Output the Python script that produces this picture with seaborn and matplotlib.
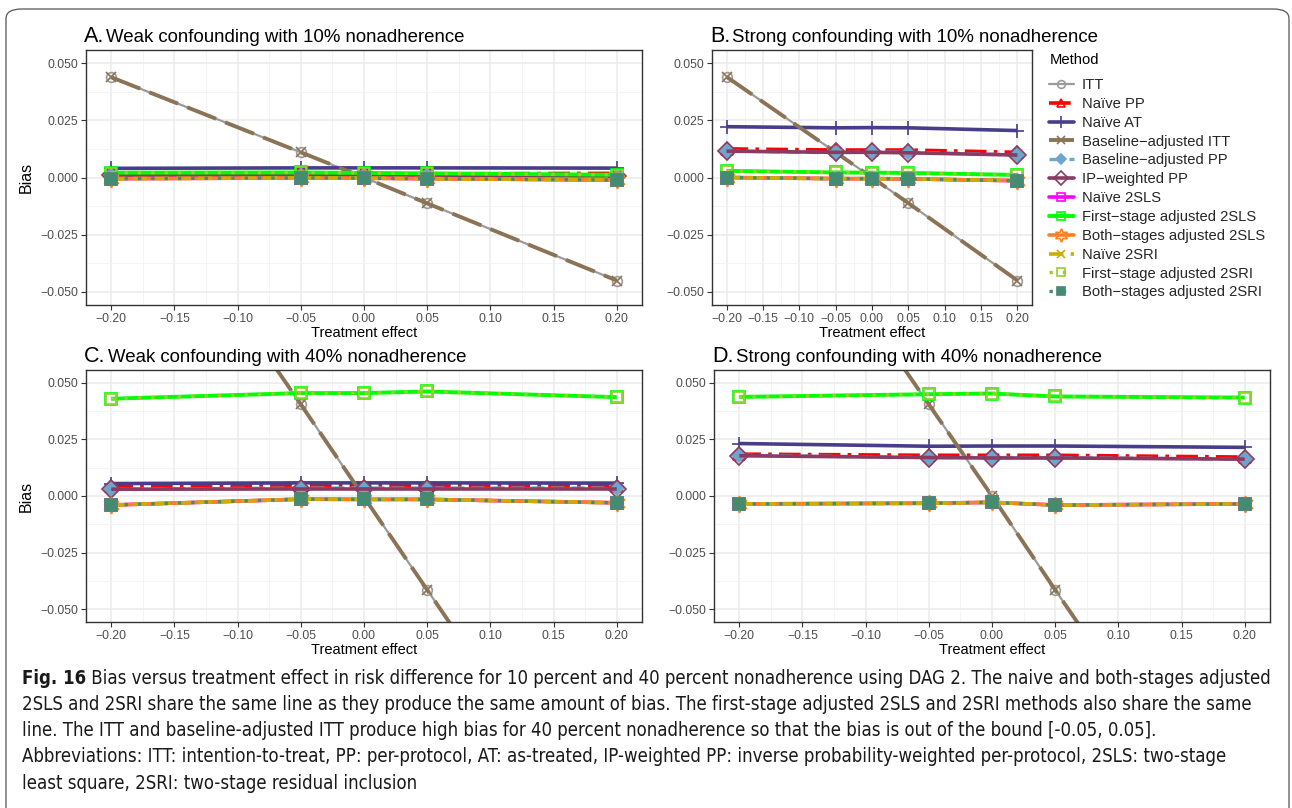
import glob
import matplotlib
matplotlib.use("Agg")
import matplotlib.pyplot as plt
from matplotlib.lines import Line2D
from matplotlib.patches import FancyBboxPatch
from matplotlib.ticker import FuncFormatter, FixedLocator
from matplotlib.font_manager import FontProperties
import seaborn as sns

W, H = 1292, 808

# ---------------------------------------------------------------- data
effects = [-0.20, -0.05, 0.00, 0.05, 0.20]

methods = [
    "ITT", "Naïve PP", "Naïve AT", "Baseline\u2212adjusted ITT",
    "Baseline\u2212adjusted PP", "IP\u2212weighted PP", "Naïve 2SLS",
    "First\u2212stage adjusted 2SLS", "Both\u2212stages adjusted 2SLS",
    "Naïve 2SRI", "First\u2212stage adjusted 2SRI", "Both\u2212stages adjusted 2SRI",
]

# A. weak confounding, 10% nonadherence
itt_weak_10 = [0.0438, 0.0110, 0.0000, -0.0113, -0.0450]
naive_pp_weak_10 = [0.0012, 0.0015, 0.0015, 0.0016, 0.0018]
naive_at_weak_10 = [0.0040, 0.0042, 0.0042, 0.0042, 0.0041]
bl_pp_weak_10 = [0.0009, 0.0010, 0.0010, 0.0010, 0.0008]
ipw_pp_weak_10 = [0.0009, 0.0010, 0.0009, 0.0009, 0.0007]
iv_naive_weak_10 = [-0.0005, -0.0002, -0.0003, -0.0005, -0.0011]
iv_first_weak_10 = [0.0021, 0.0022, 0.0020, 0.0018, 0.0012]

# B. strong confounding, 10% nonadherence
itt_strong_10 = [0.0440, 0.0110, 0.0000, -0.0112, -0.0450]
naive_pp_strong_10 = [0.0125, 0.0120, 0.0120, 0.0120, 0.0110]
naive_at_strong_10 = [0.0222, 0.0217, 0.0218, 0.0217, 0.0205]
bl_pp_strong_10 = [0.0116, 0.0108, 0.0112, 0.0110, 0.0099]
ipw_pp_strong_10 = [0.0115, 0.0110, 0.0110, 0.0108, 0.0098]
iv_naive_strong_10 = [0.0000, -0.0005, -0.0005, -0.0006, -0.0014]
iv_first_strong_10 = [0.0029, 0.0022, 0.0021, 0.0020, 0.0011]

# C. weak confounding, 40% nonadherence
itt_weak_40 = [0.1620, 0.0405, -0.0005, -0.0415, -0.1640]
naive_pp_weak_40 = [0.0044, 0.0045, 0.0045, 0.0045, 0.0045]
naive_at_weak_40 = [0.0055, 0.0058, 0.0058, 0.0058, 0.0057]
bl_pp_weak_40 = [0.0030, 0.0035, 0.0035, 0.0035, 0.0035]
ipw_pp_weak_40 = [0.0030, 0.0031, 0.0031, 0.0031, 0.0031]
iv_naive_weak_40 = [-0.0040, -0.0014, -0.0015, -0.0015, -0.0030]
iv_first_weak_40 = [0.0430, 0.0455, 0.0455, 0.0462, 0.0437]

# D. strong confounding, 40% nonadherence
itt_strong_40 = [0.1620, 0.0405, 0.0000, -0.0415, -0.1640]
naive_pp_strong_40 = [0.0185, 0.0180, 0.0180, 0.0180, 0.0172]
naive_at_strong_40 = [0.0232, 0.0220, 0.0221, 0.0221, 0.0215]
bl_pp_strong_40 = [0.0180, 0.0170, 0.0170, 0.0170, 0.0163]
ipw_pp_strong_40 = [0.0178, 0.0170, 0.0168, 0.0168, 0.0163]
iv_naive_strong_40 = [-0.0035, -0.0032, -0.0028, -0.0040, -0.0035]
iv_first_strong_40 = [0.0438, 0.0450, 0.0453, 0.0440, 0.0435]

panel_titles = [
    ("A.", "Weak confounding with 10% nonadherence"),
    ("B.", "Strong confounding with 10% nonadherence"),
    ("C.", "Weak confounding with 40% nonadherence"),
    ("D.", "Strong confounding with 40% nonadherence"),
]

x_ticks = [-0.20, -0.15, -0.10, -0.05, 0.00, 0.05, 0.10, 0.15, 0.20]
y_ticks = [-0.050, -0.025, 0.000, 0.025, 0.050]

caption_lines = [
    "Bias versus treatment effect in risk difference for 10 percent and 40 percent nonadherence using DAG 2. The naive and both-stages adjusted",
    "2SLS and 2SRI share the same line as they produce the same amount of bias. The first-stage adjusted 2SLS and 2SRI methods also share the same",
    "line. The ITT and baseline-adjusted ITT produce high bias for 40 percent nonadherence so that the bias is out of the bound [-0.05, 0.05].",
    "Abbreviations: ITT: intention-to-treat, PP: per-protocol, AT: as-treated, IP-weighted PP: inverse probability-weighted per-protocol, 2SLS: two-stage",
    "least square, 2SRI: two-stage residual inclusion",
]


def panel_values(itt, npp, nat, blpp, ipw, ivn, ivf):
    return [itt, npp, nat, itt, blpp, ipw, ivn, ivf, ivn, ivn, ivf, ivn]


panels = [
    panel_values(itt_weak_10, naive_pp_weak_10, naive_at_weak_10, bl_pp_weak_10,
                 ipw_pp_weak_10, iv_naive_weak_10, iv_first_weak_10),
    panel_values(itt_strong_10, naive_pp_strong_10, naive_at_strong_10, bl_pp_strong_10,
                 ipw_pp_strong_10, iv_naive_strong_10, iv_first_strong_10),
    panel_values(itt_weak_40, naive_pp_weak_40, naive_at_weak_40, bl_pp_weak_40,
                 ipw_pp_weak_40, iv_naive_weak_40, iv_first_weak_40),
    panel_values(itt_strong_40, naive_pp_strong_40, naive_at_strong_40, bl_pp_strong_40,
                 ipw_pp_strong_40, iv_naive_strong_40, iv_first_strong_40),
]

# ---------------------------------------------------------------- styles
hexagram = (6, 1, 0)
styles = [
    dict(color="#9A9A9A", ls="-", marker="o", ms=7, mfc="none", lw=1.6),
    dict(color="#FF0000", ls=(0, (6, 2, 1, 2)), marker="^", ms=8, mfc="none", lw=2.6),
    dict(color="#483D8B", ls="-", marker="+", ms=10, mfc="none", lw=2.6),
    dict(color="#8B7355", ls=(0, (8, 2.5)), marker="x", ms=7, mfc="none", lw=2.8),
    dict(color="#6CA6CD", ls=(0, (4, 2)), marker="D", ms=7, mfc="#6CA6CD", lw=2.4),
    dict(color="#8B3A62", ls="-", marker="D", ms=9, mfc="none", lw=2.6),
    dict(color="#FF00FF", ls="-", marker="s", ms=8, mfc="none", lw=2.6),
    dict(color="#00FF00", ls="-", marker="s", ms=8, mfc="none", lw=2.8),
    dict(color="#FF7F24", ls="-", marker=hexagram, ms=12, mfc="none", lw=2.6),
    dict(color="#CDAD00", ls=(0, (4, 2)), marker="x", ms=8, mfc="none", lw=2.6),
    dict(color="#9ACD32", ls=(0, (1, 3)), marker="s", ms=7, mfc="none", lw=2.4),
    dict(color="#458B74", ls=(0, (1, 3)), marker="s", ms=8, mfc="#458B74", lw=2.4),
]

sns.set_theme(style="whitegrid")
plt.rcParams["font.family"] = ["Liberation Sans", "DejaVu Sans"]
plt.rcParams["axes.unicode_minus"] = True

fig = plt.figure(figsize=(W / 100, H / 100), dpi=100)
fig.patch.set_facecolor("white")

# rounded frame around figure and caption
frame = FancyBboxPatch((6 / W, -0.05), (1289 - 6) / W, 1 - 9 / H + 0.05,
                       boxstyle="round,pad=0,rounding_size=0.012",
                       transform=fig.transFigure, facecolor="none",
                       edgecolor="#555555", linewidth=0.9, zorder=0)
fig.patches.append(frame)


def add_axes_px(left, top, right, bottom):
    return fig.add_axes([left / W, 1 - bottom / H, (right - left) / W, (bottom - top) / H])


boxes = [(86, 50, 642, 305), (712, 50, 1032, 305), (86, 370, 642, 622), (714, 370, 1270, 622)]


def fmt_x(v, p):
    s = f"{v:.2f}"
    return "0.00" if s in ("-0.00", "0.00") else s.replace("-", "\u2212")


def fmt_y(v, p):
    s = f"{v:.3f}"
    return "0.000" if s in ("-0.000", "0.000") else s.replace("-", "\u2212")


for idx, (box, vals) in enumerate(zip(boxes, panels)):
    ax = add_axes_px(*box)
    ax.set_facecolor("white")
    for m, st, v in zip(methods, styles, vals):
        sns.lineplot(x=effects, y=v, ax=ax, color=st["color"], linewidth=st["lw"],
                     linestyle=st["ls"], marker=st["marker"], ms=st["ms"],
                     mfc=st["mfc"], mec=st["color"], mew=1.2, sort=False,
                     legend=False, solid_capstyle="butt", dash_capstyle="butt")
    ax.set_xlim(-0.22, 0.22)
    ax.set_ylim(-0.0557, 0.0557)
    ax.xaxis.set_major_locator(FixedLocator(x_ticks))
    ax.yaxis.set_major_locator(FixedLocator(y_ticks))
    ax.xaxis.set_minor_locator(FixedLocator([t + 0.025 for t in x_ticks[:-1]] + [-0.225]))
    ax.yaxis.set_minor_locator(FixedLocator([-0.0375, -0.0125, 0.0125, 0.0375]))
    ax.xaxis.set_major_formatter(FuncFormatter(fmt_x))
    ax.yaxis.set_major_formatter(FuncFormatter(fmt_y))
    ax.grid(True, which="major", color="#EBEBEB", linewidth=1.1)
    ax.grid(True, which="minor", color="#F2F2F2", linewidth=0.6)
    ax.set_axisbelow(True)
    ax.tick_params(axis="both", which="major", length=3.5, width=0.8, color="#333333",
                   labelsize=8.8, labelcolor="#4D4D4D", pad=2, bottom=True, left=True)
    ax.tick_params(axis="both", which="minor", length=0)
    for sp in ax.spines.values():
        sp.set_color("#333333")
        sp.set_linewidth(1.0)
    ax.set_xlabel("Treatment effect", fontsize=10.5, color="black", labelpad=1)
    if idx in (0, 2):
        ax.set_ylabel("Bias", fontsize=11.5, color="black", labelpad=5)
    else:
        ax.set_ylabel("")

    # panel title: letter plus description, sharing one baseline
    letter, desc = panel_titles[idx]
    tx = box[0] - 2
    ty = 1 - (box[1] - 8) / H
    t1 = fig.text(tx / W, ty, letter, fontsize=15.5, color="black", va="baseline", ha="left")
    fig.canvas.draw()
    ext = t1.get_window_extent()
    fig.text((ext.x1 + 2) / W, ty, desc, fontsize=13.4, color="black", va="baseline", ha="left")

# ---------------------------------------------------------------- legend
fig.text(1050 / W, 1 - 60 / H, "Method", fontsize=10.6, color="black", va="center", ha="left")
handles = [Line2D([], [], color=st["color"], linewidth=st["lw"], linestyle=st["ls"],
                  marker=st["marker"], ms=st["ms"] * 0.8, mfc=st["mfc"], mec=st["color"],
                  mew=1.2) for st in styles]
leg = fig.legend(handles, methods, loc="upper left", bbox_to_anchor=(1046 / W, 1 - 75 / H),
                 frameon=False, fontsize=10.6, handlelength=1.7, handletextpad=0.55,
                 labelspacing=0.33, borderaxespad=0, borderpad=0.2)

# ---------------------------------------------------------------- caption
def find_font(keys, bold):
    files = glob.glob("/usr/share/fonts/**/*.ttf", recursive=True) + \
        glob.glob("/usr/share/fonts/**/*.otf", recursive=True)
    for k in keys:
        for f in files:
            name = f.split("/")[-1]
            is_bold = "Bold" in name
            if k in name and is_bold == bold and "Italic" not in name and "Oblique" not in name:
                return FontProperties(fname=f)
    return FontProperties(family=["Liberation Sans"], weight="bold" if bold else "normal")


narrow_keys = ["LiberationSansNarrow", "DejaVuSansCondensed", "RobotoCondensed",
               "OpenSansCondensed", "Narrow", "Condensed"]
cap_reg = find_font(narrow_keys, False)
cap_bold = find_font(narrow_keys, True)

cap_x = 22
cap_y0 = 678
cap_dy = 26.3
fig.canvas.draw()
renderer = fig.canvas.get_renderer()

# choose a size so that the first caption line spans its full width
size = 14.0
for _ in range(3):
    tb = fig.text(0, 0, "Fig. 16", fontproperties=cap_bold, fontsize=size)
    tr = fig.text(0, 0, " " + caption_lines[0], fontproperties=cap_reg, fontsize=size)
    wtot = tb.get_window_extent(renderer).width + tr.get_window_extent(renderer).width
    tb.remove()
    tr.remove()
    size = size * (1276 - cap_x) / wtot

tb = fig.text(cap_x / W, 1 - cap_y0 / H, "Fig. 16", fontproperties=cap_bold, fontsize=size,
              va="center", ha="left", color="#1a1a1a")
bw = tb.get_window_extent(renderer).width
fig.text((cap_x + bw) / W, 1 - cap_y0 / H, " " + caption_lines[0], fontproperties=cap_reg,
         fontsize=size, va="center", ha="left", color="#1a1a1a")
for i, line in enumerate(caption_lines[1:], start=1):
    fig.text(cap_x / W, 1 - (cap_y0 + i * cap_dy) / H, line, fontproperties=cap_reg,
             fontsize=size, va="center", ha="left", color="#1a1a1a")

fig.savefig("out.png", dpi=100, facecolor="white")
